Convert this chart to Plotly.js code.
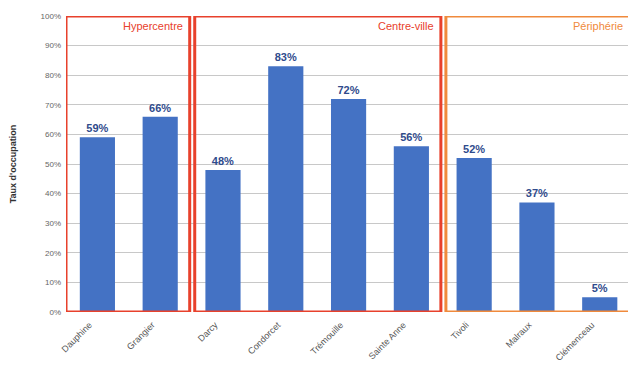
<!DOCTYPE html>
<html>
<head>
<meta charset="utf-8">
<script src="https://cdn.plot.ly/plotly-3.0.1.min.js"></script>
<style>html,body{margin:0;padding:0;background:#fff;}#chart{width:628px;height:369px;}</style>
</head>
<body>
<div id="chart"></div>
<script>
const categories = ["Dauphine", "Grangier", "Darcy", "Condorcet", "Trémouille", "Sainte Anne", "Tivoli", "Malraux", "Clémenceau"];
const occupancy = [59, 66, 48, 83, 72, 56, 52, 37, 5];
const zoneNames = ["Hypercentre", "Centre-ville", "Périphérie"];
const zoneStart = [0, 2, 6];
const zoneEnd = [1, 5, 8];
const zoneColors = ["#e8412c", "#e8412c", "#f08a3c"];
const boxPadLeft = [0.0, 0.05, 0.05];
const boxPadRight = [0.03, 0.03, -0.2];

const shapes = zoneNames.map((z, i) => ({
  type: "rect", xref: "x", yref: "y",
  x0: zoneStart[i] - 0.5 + boxPadLeft[i], x1: zoneEnd[i] + 0.5 - boxPadRight[i],
  y0: 0, y1: 100,
  line: {color: zoneColors[i], width: 3}
}));
const annotations = zoneNames.map((z, i) => ({
  xref: "x", yref: "y", x: zoneEnd[i] + 0.4, y: 96.5,
  xanchor: "right", yanchor: "middle", showarrow: false,
  text: z, font: {family: "Liberation Sans, Arial", size: 11, color: zoneColors[i]}
}));

const trace = {
  type: "bar", x: categories, y: occupancy,
  marker: {color: "#4472c4"},
  width: 0.56,
  text: occupancy.map(v => v + "%"),
  textposition: "outside",
  textfont: {family: "Liberation Sans, Arial", size: 11, color: "#2f4b8c", weight: "bold"},
  cliponaxis: false,
  hoverinfo: "none"
};

const layout = {
  width: 628, height: 369,
  margin: {l: 66, r: 0, t: 16, b: 57},
  paper_bgcolor: "#fff", plot_bgcolor: "#fff",
  showlegend: false,
  xaxis: {
    range: [-0.5, 8.45], tickangle: -45,
    tickfont: {family: "Liberation Sans, Arial", size: 9, color: "#555"},
    ticklabelshift: -8, ticklabelstandoff: 5,
    showgrid: false, showline: false, ticks: "", fixedrange: true
  },
  yaxis: {
    range: [0, 100], dtick: 10, ticksuffix: "%",
    tickfont: {family: "Liberation Sans, Arial", size: 8, color: "#666"},
    ticklabelstandoff: 4,
    showgrid: true, gridcolor: "#c8c8c8", gridwidth: 1,
    zeroline: false, showline: false, ticks: "",
    title: {text: "<b>Taux d'occupation</b>", font: {family: "Liberation Sans, Arial", size: 9, color: "#333"}, standoff: 22},
    fixedrange: true
  },
  shapes: shapes,
  annotations: annotations
};

Plotly.newPlot("chart", [trace], layout, {displayModeBar: false, staticPlot: true});
</script>
</body>
</html>
